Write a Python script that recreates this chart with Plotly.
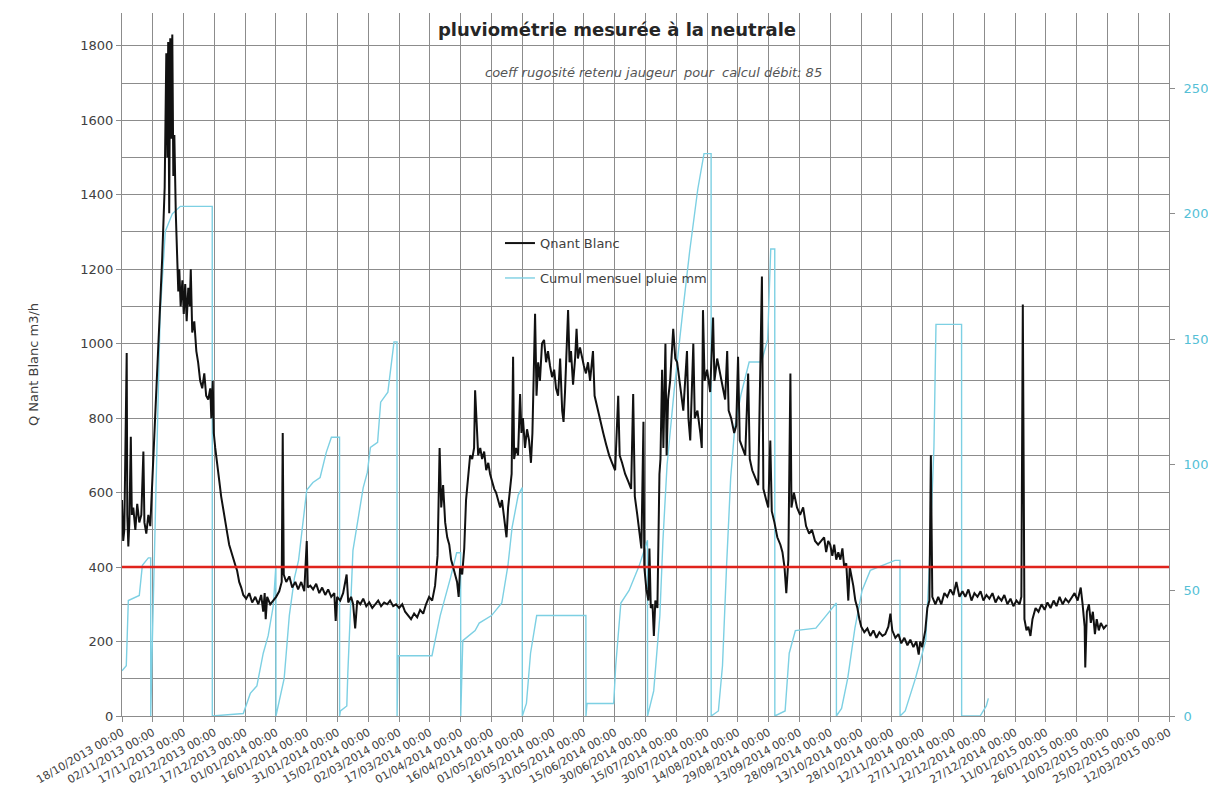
import plotly.graph_objects as go

# ---------------- data ----------------
title_text = "pluviométrie mesurée à la neutrale"
subtitle_text = "coeff rugosité retenu jaugeur \u00a0pour \u00a0calcul débit: 85"
flow_name = "Qnant Blanc"
rain_name = "Cumul mensuel pluie mm"
flow_axis_title = "Q Nant Blanc m3/h"
threshold = 400
x_start = "2013-10-18"
x_end = "2015-03-12"
flow_ticks = [0, 200, 400, 600, 800, 1000, 1200, 1400, 1600, 1800]
rain_ticks = [0, 50, 100, 150, 200, 250]

q_dates = [
    # Oct 2013
    "2013-10-18 00:00", "2013-10-18 14:00", "2013-10-19 03:00", "2013-10-20 07:00", "2013-10-20 14:00",
    "2013-10-21 02:00", "2013-10-21 14:00", "2013-10-22 07:00", "2013-10-22 19:00", "2013-10-23 12:00",
    "2013-10-24 12:00", "2013-10-25 10:00", "2013-10-26 10:00", "2013-10-27 10:00", "2013-10-28 10:00",
    "2013-10-28 22:00", "2013-10-29 20:00", "2013-10-30 20:00", "2013-10-31 19:00",
    # Nov 2013
    "2013-11-03 17:00", "2013-11-06 14:00", "2013-11-07 19:00", "2013-11-08 14:00", "2013-11-09 02:00",
    "2013-11-09 12:00", "2013-11-10 00:00", "2013-11-10 12:00", "2013-11-11 00:00", "2013-11-11 12:00",
    "2013-11-12 00:00", "2013-11-12 12:00", "2013-11-13 05:00", "2013-11-13 22:00", "2013-11-14 10:00",
    "2013-11-14 22:00", "2013-11-15 14:00", "2013-11-16 10:00", "2013-11-17 02:00", "2013-11-17 19:00",
    "2013-11-18 12:00", "2013-11-19 07:00", "2013-11-20 00:00", "2013-11-20 12:00", "2013-11-21 05:00",
    "2013-11-22 05:00", "2013-11-23 05:00", "2013-11-24 02:00", "2013-11-25 02:00", "2013-11-26 02:00",
    "2013-11-27 02:00", "2013-11-28 00:00", "2013-11-29 00:00", "2013-11-30 00:00", "2013-11-30 12:00",
    # Dec 2013
    "2013-12-01 05:00", "2013-12-01 17:00", "2013-12-02 10:00", "2013-12-03 10:00", "2013-12-04 10:00",
    "2013-12-05 07:00", "2013-12-06 07:00", "2013-12-07 07:00", "2013-12-08 07:00", "2013-12-09 05:00",
    "2013-12-10 05:00", "2013-12-11 05:00", "2013-12-12 05:00", "2013-12-13 02:00", "2013-12-14 02:00",
    "2013-12-15 02:00", "2013-12-16 02:00", "2013-12-17 12:00", "2013-12-19 00:00", "2013-12-20 10:00",
    "2013-12-21 22:00", "2013-12-23 10:00", "2013-12-24 19:00", "2013-12-25 19:00", "2013-12-26 12:00",
    "2013-12-27 00:00", "2013-12-27 17:00", "2013-12-29 05:00", "2013-12-30 17:00",
    # Jan 2014
    "2014-01-01 02:00", "2014-01-02 14:00", "2014-01-03 19:00", "2014-01-04 07:00", "2014-01-04 19:00",
    "2014-01-06 00:00", "2014-01-07 12:00", "2014-01-08 22:00", "2014-01-10 10:00", "2014-01-11 19:00",
    "2014-01-13 07:00", "2014-01-14 19:00", "2014-01-16 00:00", "2014-01-16 12:00", "2014-01-17 17:00",
    "2014-01-19 02:00", "2014-01-20 14:00", "2014-01-22 02:00", "2014-01-23 12:00", "2014-01-25 00:00",
    "2014-01-26 10:00", "2014-01-27 22:00", "2014-01-29 10:00", "2014-01-30 02:00", "2014-01-30 19:00",
    # Feb 2014
    "2014-02-01 07:00", "2014-02-02 17:00", "2014-02-04 10:00", "2014-02-05 05:00", "2014-02-06 14:00",
    "2014-02-07 14:00", "2014-02-08 14:00", "2014-02-09 14:00", "2014-02-11 02:00", "2014-02-12 12:00",
    "2014-02-14 00:00", "2014-02-15 10:00", "2014-02-16 22:00", "2014-02-18 10:00", "2014-02-19 19:00",
    "2014-02-21 05:00", "2014-02-22 17:00", "2014-02-24 05:00", "2014-02-25 14:00", "2014-02-27 02:00",
    "2014-02-28 12:00",
    # Mar 2014
    "2014-03-02 00:00", "2014-03-03 12:00", "2014-03-04 22:00", "2014-03-06 10:00", "2014-03-07 19:00",
    "2014-03-09 07:00", "2014-03-10 19:00", "2014-03-12 05:00", "2014-03-13 17:00", "2014-03-15 02:00",
    "2014-03-16 14:00", "2014-03-18 02:00", "2014-03-19 12:00", "2014-03-20 17:00", "2014-03-21 17:00",
    "2014-03-22 12:00", "2014-03-23 10:00", "2014-03-24 10:00", "2014-03-25 10:00", "2014-03-26 10:00",
    "2014-03-27 07:00", "2014-03-28 07:00", "2014-03-29 07:00", "2014-03-30 05:00", "2014-03-31 00:00",
    "2014-03-31 17:00",
    # Apr 2014
    "2014-04-01 17:00", "2014-04-02 17:00", "2014-04-03 14:00", "2014-04-04 14:00", "2014-04-05 14:00",
    "2014-04-06 14:00", "2014-04-07 12:00", "2014-04-08 00:00", "2014-04-08 19:00", "2014-04-09 12:00",
    "2014-04-10 12:00", "2014-04-11 10:00", "2014-04-12 10:00", "2014-04-13 10:00", "2014-04-14 10:00",
    "2014-04-15 07:00", "2014-04-16 07:00", "2014-04-17 07:00", "2014-04-18 05:00", "2014-04-19 05:00",
    "2014-04-20 05:00", "2014-04-21 02:00", "2014-04-22 02:00", "2014-04-23 07:00", "2014-04-24 02:00",
    "2014-04-25 00:00", "2014-04-25 19:00", "2014-04-26 12:00", "2014-04-27 00:00", "2014-04-27 22:00",
    "2014-04-28 22:00", "2014-04-29 22:00", "2014-04-30 14:00",
    # May 2014
    "2014-05-01 07:00", "2014-05-02 07:00", "2014-05-03 07:00", "2014-05-04 07:00", "2014-05-05 05:00",
    "2014-05-05 22:00", "2014-05-07 05:00", "2014-05-07 22:00", "2014-05-08 17:00", "2014-05-09 14:00",
    "2014-05-10 14:00", "2014-05-11 14:00", "2014-05-12 14:00", "2014-05-13 12:00", "2014-05-14 12:00",
    "2014-05-15 12:00", "2014-05-16 12:00", "2014-05-17 10:00", "2014-05-18 10:00", "2014-05-19 10:00",
    "2014-05-20 10:00", "2014-05-21 02:00", "2014-05-21 19:00", "2014-05-23 07:00", "2014-05-24 00:00",
    "2014-05-24 17:00", "2014-05-25 17:00", "2014-05-26 17:00", "2014-05-27 10:00", "2014-05-28 02:00",
    "2014-05-29 02:00", "2014-05-30 02:00", "2014-05-31 00:00",
    # Jun 2014
    "2014-06-01 00:00", "2014-06-02 00:00", "2014-06-03 00:00", "2014-06-04 10:00", "2014-06-05 05:00",
    "2014-06-06 10:00", "2014-06-07 22:00", "2014-06-09 10:00", "2014-06-10 19:00", "2014-06-12 07:00",
    "2014-06-13 17:00", "2014-06-15 05:00", "2014-06-16 17:00", "2014-06-17 10:00", "2014-06-18 14:00",
    "2014-06-20 02:00", "2014-06-21 14:00", "2014-06-23 00:00", "2014-06-24 00:00", "2014-06-24 19:00",
    "2014-06-26 00:00", "2014-06-27 00:00", "2014-06-28 00:00", "2014-06-29 00:00", "2014-06-29 10:00",
    "2014-06-30 10:00",
    # Jul 2014
    "2014-07-01 10:00", "2014-07-01 22:00", "2014-07-02 14:00", "2014-07-03 10:00", "2014-07-04 02:00",
    "2014-07-04 19:00", "2014-07-05 19:00", "2014-07-06 19:00", "2014-07-07 07:00", "2014-07-08 02:00",
    "2014-07-08 17:00", "2014-07-09 17:00", "2014-07-10 07:00", "2014-07-11 00:00", "2014-07-12 00:00",
    "2014-07-13 12:00", "2014-07-14 12:00", "2014-07-15 10:00", "2014-07-16 22:00", "2014-07-18 10:00",
    "2014-07-20 05:00", "2014-07-20 22:00", "2014-07-21 19:00", "2014-07-23 07:00", "2014-07-24 00:00",
    "2014-07-25 07:00", "2014-07-26 17:00", "2014-07-27 10:00", "2014-07-28 00:00", "2014-07-28 19:00",
    "2014-07-30 00:00", "2014-07-31 12:00",
    # Aug 2014
    "2014-08-01 22:00", "2014-08-02 14:00", "2014-08-03 22:00", "2014-08-05 07:00", "2014-08-06 07:00",
    "2014-08-07 19:00", "2014-08-08 19:00", "2014-08-09 12:00", "2014-08-10 17:00", "2014-08-12 05:00",
    "2014-08-13 05:00", "2014-08-14 02:00", "2014-08-14 22:00", "2014-08-16 02:00", "2014-08-17 14:00",
    "2014-08-19 00:00", "2014-08-19 19:00", "2014-08-21 00:00", "2014-08-22 12:00", "2014-08-23 22:00",
    "2014-08-25 17:00", "2014-08-26 10:00", "2014-08-27 19:00", "2014-08-28 19:00", "2014-08-29 19:00",
    "2014-08-30 12:00", "2014-08-31 19:00",
    # Sep 2014
    "2014-09-02 05:00", "2014-09-03 17:00", "2014-09-04 17:00", "2014-09-05 17:00", "2014-09-06 14:00",
    "2014-09-07 14:00", "2014-09-08 14:00", "2014-09-09 02:00", "2014-09-10 07:00", "2014-09-11 19:00",
    "2014-09-13 07:00", "2014-09-14 19:00", "2014-09-16 05:00", "2014-09-17 17:00", "2014-09-19 02:00",
    "2014-09-20 14:00", "2014-09-22 02:00", "2014-09-23 14:00", "2014-09-25 00:00", "2014-09-26 00:00",
    "2014-09-27 00:00", "2014-09-28 00:00", "2014-09-29 00:00", "2014-09-29 22:00", "2014-09-30 22:00",
    # Oct 2014
    "2014-10-01 22:00", "2014-10-02 22:00", "2014-10-03 22:00", "2014-10-04 19:00", "2014-10-05 19:00",
    "2014-10-06 19:00", "2014-10-07 12:00", "2014-10-08 05:00", "2014-10-09 05:00", "2014-10-10 05:00",
    "2014-10-11 05:00", "2014-10-12 05:00", "2014-10-13 02:00", "2014-10-14 14:00", "2014-10-16 02:00",
    "2014-10-17 12:00", "2014-10-19 00:00", "2014-10-20 12:00", "2014-10-21 22:00", "2014-10-23 10:00",
    "2014-10-24 19:00", "2014-10-26 07:00", "2014-10-27 07:00", "2014-10-28 05:00", "2014-10-29 17:00",
    "2014-10-31 05:00",
    # Nov 2014
    "2014-11-01 14:00", "2014-11-03 02:00", "2014-11-04 14:00", "2014-11-06 00:00", "2014-11-07 12:00",
    "2014-11-08 22:00", "2014-11-10 02:00", "2014-11-10 19:00", "2014-11-11 19:00", "2014-11-13 07:00",
    "2014-11-14 07:00", "2014-11-15 07:00", "2014-11-16 00:00", "2014-11-16 17:00", "2014-11-18 05:00",
    "2014-11-19 14:00", "2014-11-21 02:00", "2014-11-22 14:00", "2014-11-24 00:00", "2014-11-25 12:00",
    "2014-11-27 00:00", "2014-11-28 10:00", "2014-11-29 22:00",
    # Dec 2014
    "2014-12-01 10:00", "2014-12-02 19:00", "2014-12-04 07:00", "2014-12-05 19:00", "2014-12-07 05:00",
    "2014-12-08 17:00", "2014-12-10 05:00", "2014-12-11 14:00", "2014-12-13 02:00", "2014-12-14 12:00",
    "2014-12-16 00:00", "2014-12-17 12:00", "2014-12-18 22:00", "2014-12-20 10:00", "2014-12-21 19:00",
    "2014-12-23 07:00", "2014-12-24 19:00", "2014-12-26 05:00", "2014-12-27 17:00", "2014-12-29 05:00",
    "2014-12-30 02:00", "2014-12-30 19:00", "2014-12-31 14:00",
    # Jan 2015
    "2015-01-01 14:00", "2015-01-02 12:00", "2015-01-03 12:00", "2015-01-04 12:00", "2015-01-06 00:00",
    "2015-01-07 10:00", "2015-01-08 22:00", "2015-01-10 10:00", "2015-01-11 19:00", "2015-01-13 07:00",
    "2015-01-14 19:00", "2015-01-16 05:00", "2015-01-17 17:00", "2015-01-19 05:00", "2015-01-20 14:00",
    "2015-01-22 02:00", "2015-01-23 14:00", "2015-01-25 00:00", "2015-01-26 12:00", "2015-01-28 00:00",
    "2015-01-28 22:00", "2015-01-29 22:00", "2015-01-30 05:00", "2015-01-31 00:00",
    # Feb 2015
    "2015-02-01 00:00", "2015-02-01 22:00", "2015-02-02 22:00", "2015-02-03 22:00", "2015-02-04 19:00",
    "2015-02-05 19:00", "2015-02-06 19:00", "2015-02-08 05:00", "2015-02-09 17:00",
]

q_values = [
    # Oct 2013
    580, 470, 500, 975, 540,
    455, 520, 750, 540, 560,
    500, 570, 520, 540, 710,
    520, 490, 540, 510,
    # Nov 2013
    870, 1230, 1420, 1780, 1500,
    1810, 1350, 1820, 1550, 1830,
    1450, 1560, 1350, 1220, 1140,
    1200, 1100, 1170, 1080, 1160,
    1060, 1150, 1100, 1200, 1030,
    1060, 980, 950, 900, 880,
    920, 860, 850, 880, 800,
    # Dec 2013
    900, 760, 720, 680, 630,
    590, 560, 520, 490, 460,
    440, 425, 405, 390, 360,
    345, 325, 315, 330, 305,
    320, 300, 325, 280, 330,
    260, 320, 300, 310,
    # Jan 2014
    320, 335, 360, 760, 380,
    360, 375, 345, 360, 340,
    360, 335, 470, 345, 350,
    340, 355, 330, 345, 325,
    340, 320, 330, 255, 320,
    # Feb 2014
    310, 330, 380, 305, 320,
    300, 235, 310, 300, 315,
    295, 305, 290, 300, 310,
    295, 305, 300, 310, 295,
    300,
    # Mar 2014
    290, 300, 280, 270, 260,
    275, 265, 285, 275, 300,
    320, 310, 350, 430, 720,
    560, 620, 520, 480, 460,
    420, 400, 380, 360, 320,
    400,
    # Apr 2014
    380, 450, 580, 640, 700,
    690, 720, 875, 760, 700,
    720, 690, 710, 660, 680,
    650, 630, 610, 600, 580,
    560, 580, 540, 480, 560,
    600, 650, 965, 690, 720,
    700, 865, 760,
    # May 2014
    800, 720, 770, 740, 680,
    760, 1080, 860, 950, 900,
    1000, 1010, 950, 980, 940,
    910, 930, 880, 860, 960,
    820, 790, 870, 1090, 950,
    980, 890, 960, 1040, 960,
    990, 960, 940,
    # Jun 2014
    920, 950, 900, 980, 860,
    830, 790, 760, 730, 700,
    680, 660, 860, 700, 680,
    650, 630, 610, 865, 590,
    540, 490, 450, 790, 400,
    340,
    # Jul 2014
    310, 450, 290, 300, 215,
    310, 290, 650, 690, 930,
    720, 1000, 700, 850, 900,
    1040, 960, 950, 880, 820,
    980, 800, 740, 1000, 800,
    820, 760, 720, 1090, 900,
    930, 870,
    # Aug 2014
    1070, 900, 960, 920, 890,
    850, 980, 820, 800, 760,
    780, 965, 740, 720, 700,
    920, 690, 660, 640, 620,
    1180, 610, 580, 560, 740,
    550, 520,
    # Sep 2014
    480, 460, 440, 400, 330,
    420, 920, 560, 600, 560,
    540, 560, 510, 490, 500,
    470, 460, 470, 480, 440,
    470, 460, 430, 460, 420,
    # Oct 2014
    440, 420, 450, 400, 410,
    310, 400, 380, 350, 310,
    290, 260, 240, 225, 235,
    215, 230, 210, 225, 215,
    220, 240, 275, 230, 210,
    220,
    # Nov 2014
    195, 210, 190, 205, 185,
    200, 165, 200, 185, 230,
    290, 310, 700, 320, 300,
    320, 300, 330, 320, 340,
    325, 360, 320,
    # Dec 2014
    335, 320, 340, 310, 330,
    320, 335, 310, 325, 315,
    330, 305, 320, 310, 325,
    300, 315, 295, 310, 300,
    320, 1105, 260,
    # Jan 2015
    230, 240, 215, 260, 290,
    280, 300, 285, 305, 290,
    310, 295, 320, 300, 315,
    305, 320, 330, 310, 345,
    300, 240, 130, 280,
    # Feb 2015
    300, 250, 280, 220, 260,
    230, 250, 235, 245,
]

rain_dates = [
    "2013-10-18 00:00", "2013-10-20 02:00", "2013-10-21 02:00", "2013-10-26 10:00", "2013-10-27 22:00",
    "2013-10-30 20:00", "2013-10-31 23:00",
    "2013-11-01 00:00", "2013-11-01 19:00", "2013-11-03 17:00", "2013-11-05 14:00", "2013-11-08 02:00",
    "2013-11-11 12:00", "2013-11-15 10:00", "2013-11-30 23:00",
    "2013-12-01 00:00", "2013-12-16 02:00", "2013-12-19 12:00", "2013-12-22 17:00", "2013-12-25 19:00",
    "2013-12-28 05:00", "2013-12-30 17:00", "2013-12-31 23:00",
    "2014-01-01 00:00", "2014-01-05 00:00", "2014-01-07 12:00", "2014-01-10 00:00", "2014-01-12 00:00",
    "2014-01-16 00:00", "2014-01-19 00:00", "2014-01-22 12:00", "2014-01-25 12:00", "2014-01-28 00:00",
    "2014-01-31 23:00",
    "2014-02-01 00:00", "2014-02-01 10:00", "2014-02-04 12:00", "2014-02-05 00:00", "2014-02-07 12:00",
    "2014-02-12 12:00", "2014-02-14 12:00", "2014-02-16 00:00", "2014-02-19 12:00", "2014-02-21 00:00",
    "2014-02-24 12:00", "2014-02-27 12:00", "2014-02-28 23:00",
    "2014-03-01 00:00", "2014-03-01 12:00", "2014-03-18 00:00", "2014-03-22 00:00", "2014-03-27 00:00",
    "2014-03-30 00:00", "2014-03-31 23:00",
    "2014-04-01 00:00", "2014-04-02 00:00", "2014-04-08 00:00", "2014-04-10 00:00", "2014-04-16 00:00",
    "2014-04-21 00:00", "2014-04-24 00:00", "2014-04-26 00:00", "2014-04-29 00:00", "2014-04-30 23:00",
    "2014-05-01 00:00", "2014-05-03 00:00", "2014-05-05 00:00", "2014-05-08 00:00", "2014-05-31 23:00",
    "2014-06-01 00:00", "2014-06-01 12:00", "2014-06-14 12:00", "2014-06-15 12:00", "2014-06-18 00:00",
    "2014-06-22 00:00", "2014-06-27 00:00", "2014-06-30 23:00",
    "2014-07-01 00:00", "2014-07-04 00:00", "2014-07-07 00:00", "2014-07-08 12:00", "2014-07-10 12:00",
    "2014-07-14 00:00", "2014-07-18 00:00", "2014-07-21 12:00", "2014-07-25 12:00", "2014-07-28 12:00",
    "2014-07-31 23:00",
    "2014-08-01 00:00", "2014-08-04 12:00", "2014-08-06 12:00", "2014-08-08 12:00", "2014-08-10 12:00",
    "2014-08-12 12:00", "2014-08-15 12:00", "2014-08-19 12:00", "2014-08-25 12:00", "2014-08-28 12:00",
    "2014-08-30 00:00", "2014-08-31 23:00",
    "2014-09-01 00:00", "2014-09-06 00:00", "2014-09-08 00:00", "2014-09-11 00:00", "2014-09-21 00:00",
    "2014-09-26 00:00", "2014-09-30 23:00",
    "2014-10-01 00:00", "2014-10-03 12:00", "2014-10-06 12:00", "2014-10-10 00:00", "2014-10-13 12:00",
    "2014-10-17 12:00", "2014-10-29 12:00", "2014-10-31 23:00",
    "2014-11-01 00:00", "2014-11-03 12:00", "2014-11-08 12:00", "2014-11-13 12:00", "2014-11-15 00:00",
    "2014-11-17 12:00", "2014-11-18 12:00", "2014-11-30 23:00",
    "2014-12-01 00:00", "2014-12-10 00:00", "2014-12-13 00:00", "2014-12-14 00:00",
]

rain_values = [
    18, 20, 46, 48, 60,
    63, 63,
    0, 30, 100, 160, 193,
    200, 203, 203,
    0, 1, 9, 12, 25,
    32, 44, 60,
    0, 15, 40, 55, 62,
    90, 93, 95, 105, 111,
    111,
    0, 2, 4, 17, 66,
    91, 97, 107, 109, 125,
    129, 149, 149,
    0, 24, 24, 40, 55,
    65, 65,
    0, 30, 34, 37, 40,
    45, 60, 75, 88, 91,
    0, 5, 25, 40, 40,
    0, 5, 5, 20, 45,
    50, 60, 70,
    0, 10, 40, 70, 100,
    130, 160, 185, 210, 224,
    224,
    0, 2, 20, 60, 95,
    115, 128, 141, 141, 150,
    186, 186,
    0, 2, 25, 34, 35,
    40, 45,
    0, 3, 15, 35, 50,
    58, 62, 62,
    0, 2, 15, 30, 55,
    107, 156, 156,
    0, 0, 4, 7,
]

assert len(q_dates) == len(q_values)
assert len(rain_dates) == len(rain_values)

# ---------------- style ----------------
GRID = "#8c8c8c"
BLUE = "#7dd0e3"
BLUE_TXT = "#55bfd6"
TEXT = "#404040"
FONT = "DejaVu Sans"

fig = go.Figure()
fig.add_trace(go.Scatter(
    x=rain_dates, y=rain_values, name=rain_name, mode="lines", yaxis="y",
    line=dict(color=BLUE, width=1.4), legendgroup="rain", legendrank=2,
))
fig.add_trace(go.Scatter(
    x=q_dates, y=q_values, name=flow_name, mode="lines", yaxis="y2",
    line=dict(color="#111111", width=2), legendgroup="flow", legendrank=1,
))

fig.add_shape(type="line", xref="paper", x0=0, x1=1, yref="y2", y0=threshold, y1=threshold,
              line=dict(color="#e0231c", width=2.6), layer="above")

fig.add_annotation(text=subtitle_text, xref="paper", yref="paper", x=0.508, y=0.915,
                   xanchor="center", yanchor="middle", showarrow=False,
                   font=dict(family=FONT, size=13, color="#555555", style="italic"))

# the page body adds an 8 px offset, so the figure is 1200x784 drawn at (8, 8)
fig.update_layout(
    width=1200, height=784,
    margin=dict(l=114, r=39, t=5, b=76),
    paper_bgcolor="white", plot_bgcolor="white",
    font=dict(family=FONT, size=13, color=TEXT),
    title=dict(text=title_text, x=0.5075, xanchor="center", y=0.972, yanchor="middle",
               font=dict(family=FONT, size=18, color="#262626", weight="bold")),
    showlegend=True,
    legend=dict(x=0.361, y=0.694, xanchor="left", yanchor="top", bgcolor="rgba(0,0,0,0)",
                font=dict(family=FONT, size=13, color=TEXT), traceorder="grouped",
                tracegroupgap=15, itemwidth=30),
    xaxis=dict(type="date", range=[x_start, x_end], tick0=x_start, dtick=15 * 86400000,
               tickformat="%d/%m/%Y %H:%M", tickangle=-30, showgrid=True, gridcolor=GRID,
               gridwidth=1, ticks="outside", ticklen=5, tickcolor=GRID, showline=True,
               linecolor=GRID, automargin=False, tickfont=dict(size=11, color=TEXT), zeroline=False),
    yaxis=dict(side="right", range=[0, 280], tickmode="array", tickvals=rain_ticks, showgrid=False,
               ticks="outside", ticklen=5, tickcolor=GRID, showline=True, linecolor=GRID,
               ticklabelstandoff=6,
               tickfont=dict(size=13, color=BLUE_TXT), zeroline=False, automargin=False),
    yaxis2=dict(side="left", overlaying="y", range=[0, 1888], tickmode="linear", tick0=0, dtick=200,
                showgrid=True, gridcolor=GRID, gridwidth=1,
                minor=dict(dtick=100, tick0=0, showgrid=True, gridcolor=GRID, gridwidth=1),
                ticks="outside", ticklen=5, tickcolor=GRID, showline=True, linecolor=GRID,
                tickfont=dict(size=13, color=TEXT), zeroline=False, automargin=False,
                title=dict(text=flow_axis_title, standoff=38, font=dict(size=13, color=TEXT))),
)

fig.write_html("out.html")
